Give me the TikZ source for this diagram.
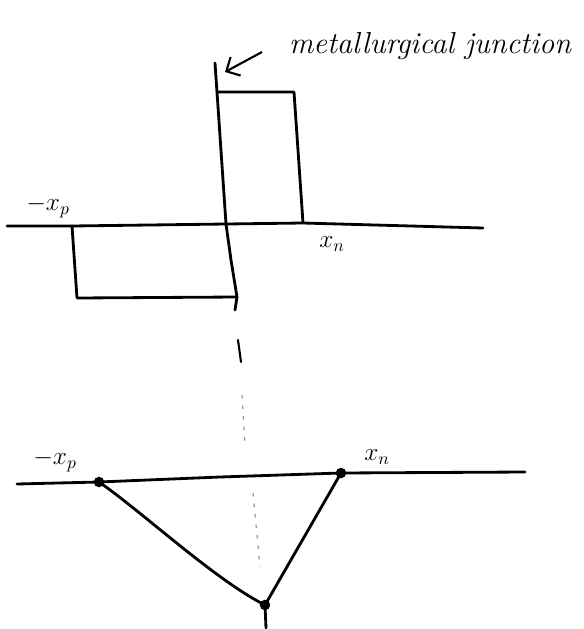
\documentclass[tikz,border=0pt]{standalone}
\usepackage{xcolor}
\usetikzlibrary{arrows.meta}
\definecolor{jfaint}{RGB}{150,150,150}
\tikzset{
  jline/.style={line width=1.6pt, line join=round, line cap=round},
  jdash/.style={jfaint, line width=0.7pt, dash pattern=on 2pt off 4pt},
  jlbl/.style={font=\Large, inner sep=1pt},
  jdot/.style={circle, fill=black, inner sep=0pt, minimum size=6pt}
}

\begin{document}
\begin{tikzpicture}[x=0.02cm, y=-0.02cm]
    \useasboundingbox (0,0) rectangle (583,629);
    % charge density
    \coordinate (jtop) at (215,63);
    \coordinate (ptl) at (217,92);
    \coordinate (ptr) at (294,92);
    \coordinate (pbr) at (303,223);
    \coordinate (jax) at (226,224);
    \coordinate (jbot) at (237,297);
    \coordinate (ntl) at (72,226);
    \coordinate (nbl) at (77,298);
    \draw[jline] (7,226) -- (ntl) -- (jax) -- (pbr) -- (483,228);
    \draw[jline] (jtop) -- (ptl) -- (jax) -- (231,260) -- (jbot) -- (235,310);
    \draw[jline] (ptl) -- (ptr) -- (pbr);
    \draw[jline] (ntl) -- (nbl) -- (jbot);
    \node[jlbl] (xpa) at (48,207) {$-x_p$};
    \node[jlbl] (xna) at (332,244) {$x_n$};
    % junction label
    \node[font=\LARGE\itshape, anchor=west, inner sep=1pt] (mj) at (287,46) {metallurgical junction};
    \coordinate (mjs) at (262,52);
    \coordinate (mjt) at (225,72);
    \draw[line width=1.2pt, -{Straight Barb[length=6pt]}] (mjs) -- (mjt);
    % dashed guide
    \draw[jline, line width=1.2pt] (238,340) -- (241,362);
    \draw[jdash] (242,395) -- (245,445);
    \draw[jdash] (253,493) -- (260,567);
    % electric field
    \coordinate (xp) at (99,482);
    \coordinate (xn) at (341,473);
    \coordinate (emax) at (265,605);
    \draw[jline] (17,484) -- (xp) -- (220,477) -- (xn) -- (525,472);
    \draw[jline] (xp) .. controls (140,510) and (215,580) .. (emax);
    \draw[jline] (xn) -- (emax) -- (266,628);
    \node[jdot] (dxp) at (xp) {};
    \node[jdot] (dxn) at (xn) {};
    \node[jdot] (dem) at (emax) {};
    \node[jlbl] (xpb) at (55,461) {$-x_p$};
    \node[jlbl] (xnb) at (377,457) {$x_n$};
  \end{tikzpicture}
\end{document}
